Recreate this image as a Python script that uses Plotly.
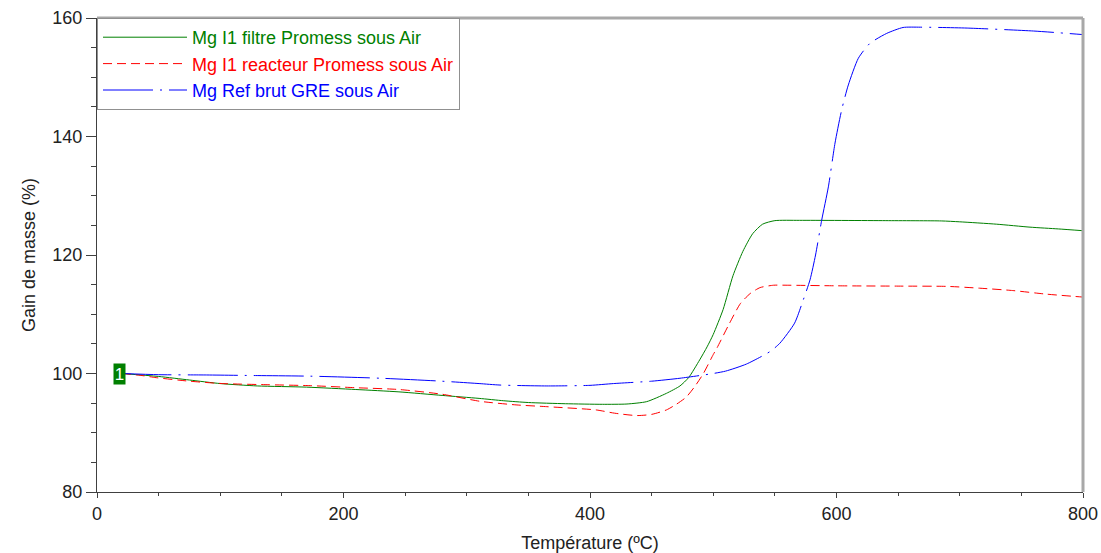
import plotly.graph_objects as go

# Data (Température °C, Gain de masse %)
green_x = [20, 50, 75, 100, 130, 170, 210, 245, 280, 310, 330, 350, 380, 410, 430, 446, 462, 473, 480,
           489, 495, 500, 508, 516, 524, 532, 540, 550, 570, 640, 685, 700, 730, 757, 780, 800]
green_y = [100.0, 99.5, 98.9, 98.3, 97.9, 97.7, 97.3, 96.9, 96.3, 95.8, 95.4, 95.1, 94.9, 94.8, 94.85,
           95.25, 96.65, 97.9, 99.3, 102.3, 104.5, 106.6, 110.8, 116.5, 120.6, 123.6, 125.2, 125.8,
           125.85, 125.8, 125.75, 125.6, 125.2, 124.7, 124.4, 124.1]

red_x = [20, 35, 48, 75, 102, 140, 173, 210, 245, 280, 311, 340, 365, 405, 420, 438, 450, 462, 470, 478,
         485, 492, 500, 503, 513, 522, 530, 538, 549, 560, 600, 650, 690, 716, 743, 770, 800]
red_y = [100.0, 99.7, 99.3, 98.7, 98.3, 98.1, 97.95, 97.6, 97.3, 96.5, 95.3, 94.7, 94.4, 93.85, 93.3,
         92.9, 93.1, 93.85, 94.8, 96.0, 97.8, 100.0, 103.2, 104.3, 108.4, 111.8, 113.5, 114.5, 114.9,
         114.9, 114.8, 114.75, 114.7, 114.4, 114.0, 113.4, 112.9]

blue_x = [20, 50, 89, 130, 173, 230, 280, 310, 327, 365, 400, 419, 450, 473, 497, 510, 527, 546, 554,
          566, 573, 578.5, 583, 588, 593.4, 598.8, 604.2, 609.6, 617.7, 627, 640.7, 654, 668, 706, 760, 800]
blue_y = [100.0, 99.8, 99.75, 99.65, 99.55, 99.2, 98.7, 98.3, 98.05, 97.9, 98.0, 98.3, 98.7, 99.2, 99.9,
          100.4, 101.6, 103.7, 105.1, 108.5, 112.4, 115.8, 120.0, 125.9, 131.5, 138.9, 144.5, 148.7,
          153.2, 155.7, 157.4, 158.4, 158.45, 158.3, 157.8, 157.2]

names = ["Mg I1 filtre Promess sous Air", "Mg I1 reacteur Promess sous Air", "Mg Ref brut GRE sous Air"]
colors = ["#008000", "#ff0000", "#0000ff"]

start_label_x = [18]
start_label_y = [100]

x_title = "Température (ºC)"
y_title = "Gain de masse (%)"

FONT = "Liberation Sans, Arial, sans-serif"

fig = go.Figure()
fig.add_trace(go.Scatter(x=green_x, y=green_y, mode="lines",
                         name=f'<span style="color:{colors[0]}">{names[0]}</span>',
                         line=dict(color=colors[0], width=1, shape="spline", smoothing=0.6)))
fig.add_trace(go.Scatter(x=red_x, y=red_y, mode="lines",
                         name=f'<span style="color:{colors[1]}">{names[1]}</span>',
                         line=dict(color=colors[1], width=1, dash="9px,5px", shape="spline", smoothing=0.6)))
fig.add_trace(go.Scatter(x=blue_x, y=blue_y, mode="lines",
                         name=f'<span style="color:{colors[2]}">{names[2]}</span>',
                         line=dict(color=colors[2], width=1, dash="50px,7px,2px,7px",
                                   shape="spline", smoothing=0.6)))

fig.add_annotation(x=start_label_x[0], y=start_label_y[0], text="1", showarrow=False,
                   font=dict(family=FONT, size=17, color="white"),
                   bgcolor="#008000", borderpad=0, width=11, height=20,
                   xanchor="center", yanchor="middle")

# gray top and right frame
fig.add_shape(type="line", xref="paper", yref="paper", x0=0, x1=1, y0=1, y1=1,
              line=dict(color="#a8a8a8", width=3))
fig.add_shape(type="line", xref="paper", yref="paper", x0=1, x1=1, y0=0, y1=1,
              line=dict(color="#a8a8a8", width=3))

fig.update_layout(
    width=1101, height=553,
    margin=dict(l=97, r=18, t=18, b=61, autoexpand=False),
    paper_bgcolor="white", plot_bgcolor="white",
    font=dict(family=FONT, size=18, color="#222222"),
    showlegend=True,
    legend=dict(x=0, y=1, xanchor="left", yanchor="top",
                bgcolor="white", bordercolor="#909090", borderwidth=1,
                itemwidth=84, font=dict(family=FONT, size=18),
                tracegroupgap=0, itemclick=False),
    xaxis=dict(range=[0, 800], dtick=200, tick0=0, showgrid=False, zeroline=False,
               automargin=False,
               showline=True, linecolor="#404040", linewidth=1,
               ticks="outside", ticklen=5, tickcolor="#404040",
               minor=dict(dtick=50, ticks="outside", ticklen=3, tickcolor="#404040", showgrid=False),
               title=dict(text=x_title, font=dict(family=FONT, size=18), standoff=16),
               tickfont=dict(family=FONT, size=18, color="#222222")),
    yaxis=dict(range=[80, 160], dtick=20, tick0=80, showgrid=False, zeroline=False,
               automargin=False,
               showline=True, linecolor="#404040", linewidth=1,
               ticks="outside", ticklen=10, tickcolor="#404040",
               minor=dict(dtick=5, ticks="outside", ticklen=5, tickcolor="#404040", showgrid=False),
               title=dict(text=y_title, font=dict(family=FONT, size=18), standoff=12),
               tickfont=dict(family=FONT, size=18, color="#222222")),
)

fig.write_html("out.html", config={"displayModeBar": False},
               post_script="document.body.style.margin='0';document.body.style.padding='0';")
